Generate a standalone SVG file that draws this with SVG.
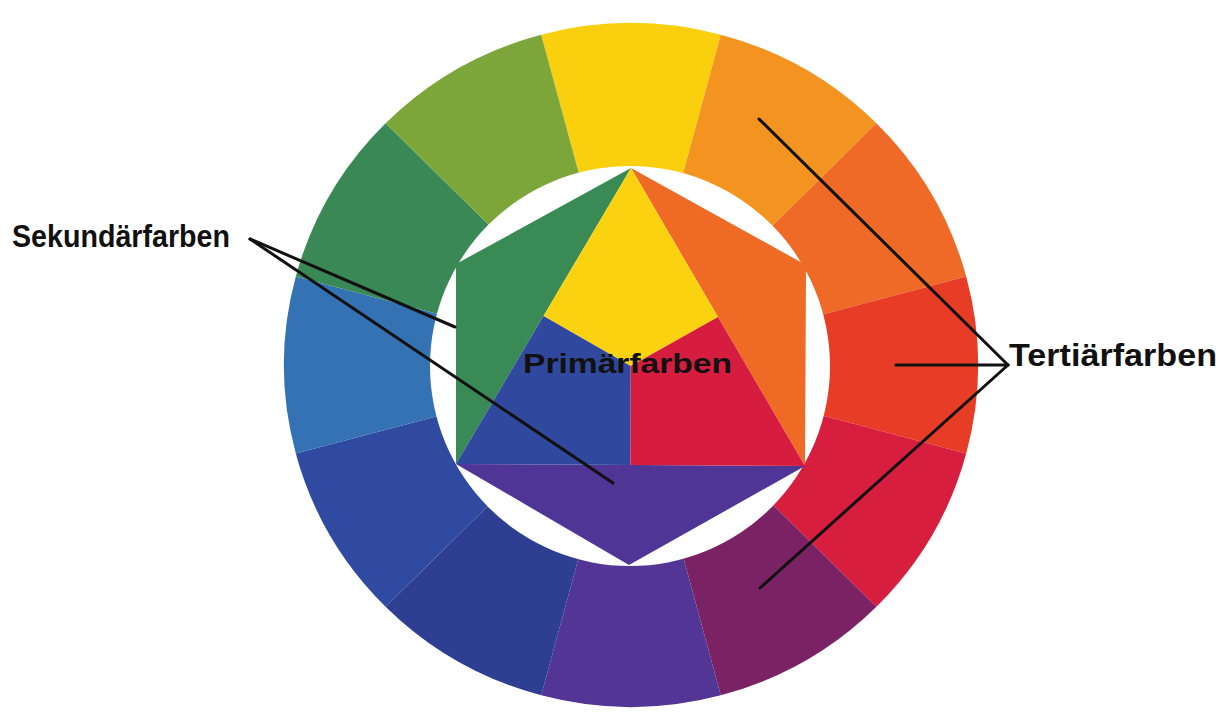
<svg xmlns="http://www.w3.org/2000/svg" width="1227" height="717" viewBox="0 0 1227 717">
<style>
.lbl{font-family:"Liberation Sans",Arial,sans-serif;font-weight:bold;fill:#111;}
.con{stroke:#111;stroke-width:3;fill:none;stroke-linecap:round;}
</style>
<rect x="0" y="0" width="1227" height="717" fill="#ffffff"/>
<g id="ring">
<path id="seg-yellow" d="M631 365 L541.2 34.7 A347 342 0 0 1 720.8 34.7 Z" fill="#FAD00E"/>
<path id="seg-yellow-orange" d="M631 365 L720.8 34.7 A347 342 0 0 1 876.4 123.2 Z" fill="#F39421"/>
<path id="seg-orange" d="M631 365 L876.4 123.2 A347 342 0 0 1 966.2 276.5 Z" fill="#EE6A26"/>
<path id="seg-red-orange" d="M631 365 L966.2 276.5 A347 342 0 0 1 966.2 453.5 Z" fill="#E73C25"/>
<path id="seg-red" d="M631 365 L966.2 453.5 A347 342 0 0 1 876.4 606.8 Z" fill="#D81E3F"/>
<path id="seg-red-violet" d="M631 365 L876.4 606.8 A347 342 0 0 1 720.8 695.3 Z" fill="#7B2264"/>
<path id="seg-violet" d="M631 365 L720.8 695.3 A347 342 0 0 1 541.2 695.3 Z" fill="#523594"/>
<path id="seg-blue-violet" d="M631 365 L541.2 695.3 A347 342 0 0 1 385.6 606.8 Z" fill="#2E3E91"/>
<path id="seg-blue" d="M631 365 L385.6 606.8 A347 342 0 0 1 295.8 453.5 Z" fill="#2F4AA0"/>
<path id="seg-blue-green" d="M631 365 L295.8 453.5 A347 342 0 0 1 295.8 276.5 Z" fill="#3572B3"/>
<path id="seg-green" d="M631 365 L295.8 276.5 A347 342 0 0 1 385.6 123.2 Z" fill="#3A8856"/>
<path id="seg-yellow-green" d="M631 365 L385.6 123.2 A347 342 0 0 1 541.2 34.7 Z" fill="#7CA63A"/>
<circle cx="630" cy="366" r="200" fill="#ffffff"/>
</g>
<g id="hexagon">
<polygon id="sec-green" points="631,168 456,264 456,464" fill="#3A8A56"/>
<polygon id="sec-orange" points="631,168 806,265 805,466" fill="#EE6A25"/>
<polygon id="sec-violet" points="456,464 629,565 805,466" fill="#4E3596"/>
<polygon id="pri-yellow" points="631,168 718,317 630.7,366 543.5,316" fill="#FBD20F"/>
<polygon id="pri-blue" points="543.5,316 630.7,366 630.5,465 456,464" fill="#30489D"/>
<polygon id="pri-red" points="718,317 805,466 630.5,465 630.7,366" fill="#D71D3F"/>
</g>
<g id="connectors">
<line class="con" x1="250" y1="239" x2="455" y2="327"/>
<line class="con" x1="250" y1="239" x2="613" y2="483"/>
<line class="con" x1="1008" y1="365" x2="759" y2="119"/>
<line class="con" x1="1008" y1="365" x2="896" y2="365"/>
<line class="con" x1="1008" y1="365" x2="760" y2="588"/>
</g>
<g id="label-sekundaer"><text class="lbl" x="12" y="247" font-size="32" textLength="218" lengthAdjust="spacingAndGlyphs">Sekundärfarben</text></g>
<g id="label-tertiaer"><text class="lbl" x="1009" y="366" font-size="32" textLength="208" lengthAdjust="spacingAndGlyphs">Tertiärfarben</text></g>
<g id="label-primaer"><text class="lbl" x="523" y="373" font-size="28.5" textLength="209" lengthAdjust="spacingAndGlyphs">Primärfarben</text></g>
</svg>
